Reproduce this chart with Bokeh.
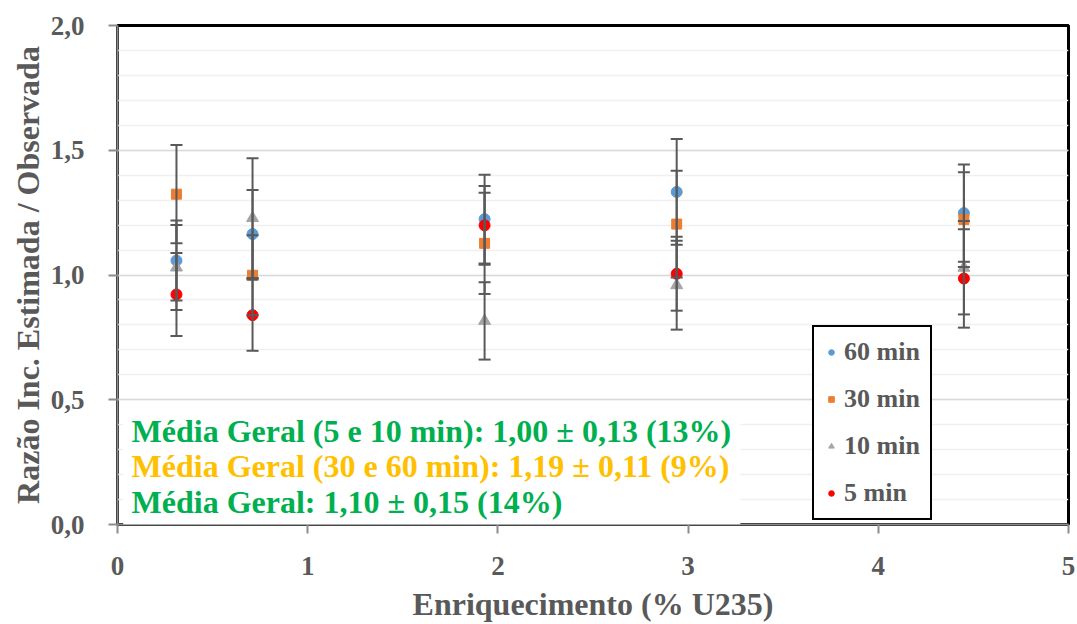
import math
from bokeh.plotting import figure
from bokeh.models import (ColumnDataSource, Whisker, TeeHead, Legend, LegendItem,
                          FixedTicker, CustomJSTickFormatter, BoxAnnotation, Label, Range1d)
from bokeh.embed import file_html
from bokeh.resources import INLINE

# ---------------- data ----------------
enrichment = [0.31, 0.71, 1.93, 2.94, 4.45]

series_names = ["60 min", "30 min", "10 min", "5 min"]
ratio_60 = [1.058, 1.164, 1.224, 1.333, 1.248]
err_60 = [0.160, 0.177, 0.178, 0.212, 0.195]
ratio_30 = [1.324, 0.999, 1.127, 1.204, 1.222]
err_30 = [0.197, 0.160, 0.203, 0.214, 0.190]
ratio_10 = [1.030, 1.228, 0.816, 0.959, 1.029]
err_10 = [0.170, 0.240, 0.155, 0.178, 0.187]
ratio_5 = [0.922, 0.839, 1.199, 1.005, 0.986]
err_5 = [0.166, 0.143, 0.158, 0.148, 0.197]

y_ticks = [0.0, 0.5, 1.0, 1.5, 2.0]
y_minor = [i / 10 for i in range(0, 21)]
x_ticks = [0, 1, 2, 3, 4, 5]

note_lines = [
    "Média Geral (5 e 10 min): 1,00 ± 0,13 (13%)",
    "Média Geral (30 e 60 min): 1,19 ± 0,11 (9%)",
    "Média Geral: 1,10 ± 0,15 (14%)",
]
note_colors = ["#00B050", "#FFC000", "#00B050"]

x_title = "Enriquecimento (% U235)"
y_title = "Razão Inc. Estimada / Observada"

# ---------------- styles ----------------
FONT = "'Liberation Serif', 'Times New Roman', serif"
GREY_TXT = "#595959"
styles = {
    "60 min": dict(marker="circle", color="#5B9BD5", size=11),
    "30 min": dict(marker="square", color="#ED7D31", size=10),
    "10 min": dict(marker="triangle", color="#A5A5A5", size=12),
    "5 min": dict(marker="circle", color="#FF0000", size=11),
}
values = {"60 min": (ratio_60, err_60), "30 min": (ratio_30, err_30),
          "10 min": (ratio_10, err_10), "5 min": (ratio_5, err_5)}

p = figure(width=1077, height=624, output_backend="svg", toolbar_location=None,
           x_range=Range1d(0, 5), y_range=Range1d(0, 2),
           min_border_left=117, min_border_right=9, min_border_top=25, min_border_bottom=98,
           background_fill_color="white", border_fill_color="white")

p.outline_line_color = "black"
p.outline_line_width = 3
p.outline_line_alpha = 1

# axes
for ax in (p.xaxis[0], p.yaxis[0]):
    ax.axis_line_color = "#8C8C8C"
    ax.axis_line_width = 2
    ax.major_tick_line_color = "#8C8C8C"
    ax.major_tick_line_width = 2
    ax.major_tick_in = 0
    ax.major_tick_out = 9
    ax.minor_tick_line_color = None
    ax.major_label_text_font = FONT
    ax.major_label_text_font_style = "bold"
    ax.major_label_text_font_size = "27px"
    ax.major_label_text_color = GREY_TXT
    ax.axis_label_text_font = FONT
    ax.axis_label_text_font_style = "bold"
    ax.axis_label_text_font_size = "32px"
    ax.axis_label_text_color = GREY_TXT

p.xaxis.ticker = FixedTicker(ticks=x_ticks)
p.yaxis.ticker = FixedTicker(ticks=y_ticks, minor_ticks=y_minor)
p.yaxis.formatter = CustomJSTickFormatter(code="return tick.toFixed(1).replace('.', ',');")
p.xaxis.formatter = CustomJSTickFormatter(code="return tick.toFixed(0);")
p.xaxis.axis_label = x_title
p.yaxis.axis_label = y_title
p.xaxis.major_label_standoff = 23
p.yaxis.major_label_standoff = 24
p.xaxis.axis_label_standoff = 8
p.yaxis.axis_label_standoff = 2

p.xgrid.grid_line_color = None
p.ygrid.grid_line_color = "#D9D9D9"
p.ygrid.grid_line_width = 1.5
p.ygrid.minor_grid_line_color = "#F0F0F0"
p.ygrid.minor_grid_line_width = 1.5

# error bars first (under markers)
for name in series_names:
    ys, es = values[name]
    src = ColumnDataSource(dict(x=enrichment, y=ys,
                                upper=[a + b for a, b in zip(ys, es)],
                                lower=[a - b for a, b in zip(ys, es)]))
    w = Whisker(source=src, base="x", upper="upper", lower="lower", dimension="height",
                line_color="#595959", line_width=2, level="glyph",
                upper_head=TeeHead(size=12, line_color="#595959", line_width=2),
                lower_head=TeeHead(size=12, line_color="#595959", line_width=2))
    p.add_layout(w)

legend_items = []
for name in series_names:
    ys, es = values[name]
    st = styles[name]
    src = ColumnDataSource(dict(x=enrichment, y=ys))
    p.scatter("x", "y", source=src, marker=st["marker"], size=st["size"],
              fill_color=st["color"], line_color=st["color"])
    dummy = p.scatter(x=[math.nan], y=[math.nan], marker=st["marker"], size=8,
                      fill_color=st["color"], line_color=st["color"])
    legend_items.append(LegendItem(label=name, renderers=[dummy]))

legend = Legend(items=legend_items, location=(695, 4),
                border_line_color="black", border_line_width=2.5, border_line_alpha=1,
                background_fill_color="white", background_fill_alpha=1,
                label_text_font=FONT, label_text_font_style="bold",
                label_text_font_size="26px", label_text_color=GREY_TXT,
                glyph_width=14, glyph_height=30, label_height=30,
                label_standoff=6, spacing=17, padding=10, margin=0)
p.add_layout(legend)

# note box
p.add_layout(BoxAnnotation(left=0.03, right=3.275, bottom=0.0, top=0.49,
                           fill_color="white", fill_alpha=1, line_color=None))
note_y = [0.375, 0.2355, 0.092]
for txt, col, yy in zip(note_lines, note_colors, note_y):
    p.add_layout(Label(x=0.074, y=yy, text=txt, text_baseline="middle",
                       text_font=FONT, text_font_style="bold",
                       text_font_size="32px", text_color=col))

open("out.html", "w").write(file_html(p, INLINE))
